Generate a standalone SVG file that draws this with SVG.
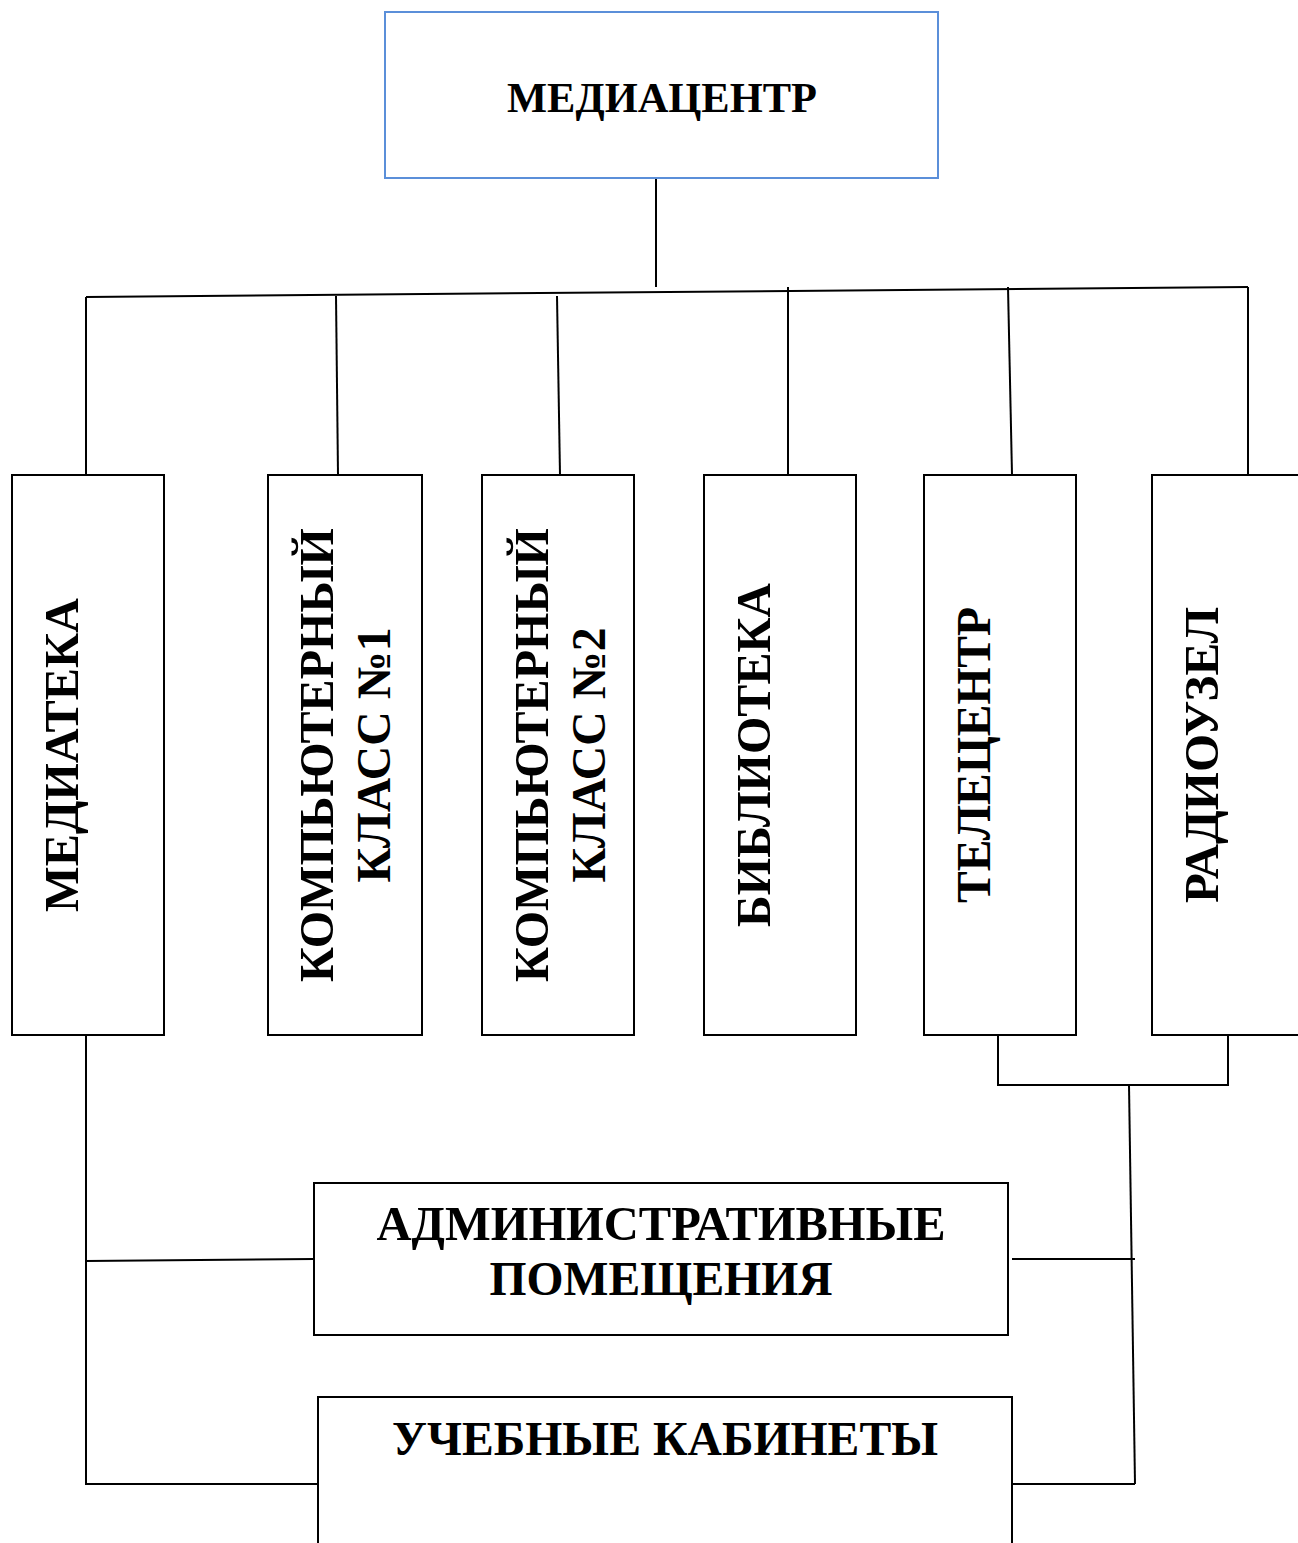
<svg xmlns="http://www.w3.org/2000/svg" width="1298" height="1543" viewBox="0 0 1298 1543">
<style>
.box{fill:#fff;stroke:#000;stroke-width:2}
.top{fill:#fff;stroke:#5b8fd9;stroke-width:2}
.ln{fill:none;stroke:#000;stroke-width:2}
text{font-family:"Liberation Serif","Times New Roman",serif;font-weight:bold;fill:#000;text-anchor:middle}
.v{font-size:48px}
.h{font-size:48px}
</style>
<rect width="1298" height="1543" fill="#fff"/>
<g id="connectors">
<line class="ln" x1="656" y1="178" x2="656" y2="287"/>
<line class="ln" x1="86" y1="297" x2="1248" y2="287"/>
<polyline class="ln" points="86,297 86,475"/>
<line class="ln" x1="336" y1="296" x2="338" y2="475"/>
<line class="ln" x1="557" y1="296" x2="560" y2="475"/>
<line class="ln" x1="788" y1="287" x2="788" y2="475"/>
<line class="ln" x1="1008" y1="287" x2="1012" y2="475"/>
<polyline class="ln" points="1248,287 1248,475"/>
<polyline class="ln" points="998,1035 998,1085 1228,1085 1228,1035"/>
<line class="ln" x1="1129" y1="1085" x2="1135" y2="1484"/>
<line class="ln" x1="1012" y1="1259" x2="1135" y2="1259"/>
<line class="ln" x1="1013" y1="1484" x2="1135" y2="1484"/>
<polyline class="ln" points="86,1035 86,1484 318,1484"/>
<line class="ln" x1="86" y1="1261" x2="314" y2="1259"/>
</g>
<g id="mediacenter">
<rect class="top" x="385" y="12" width="553" height="166"/>
<text class="h" x="662" y="112" style="font-size:42px" textLength="310" lengthAdjust="spacingAndGlyphs">МЕДИАЦЕНТР</text>
</g>
<g id="mediateka">
<rect class="box" x="12" y="475" width="152" height="560"/>
<text class="v" transform="translate(78,755) rotate(-90)" textLength="314" lengthAdjust="spacingAndGlyphs">МЕДИАТЕКА</text>
</g>
<g id="comp1">
<rect class="box" x="268" y="475" width="154" height="560"/>
<text class="v" transform="translate(333,755) rotate(-90)" textLength="454" lengthAdjust="spacingAndGlyphs">КОМПЬЮТЕРНЫЙ</text>
<text class="v" transform="translate(390,755) rotate(-90)" textLength="255" lengthAdjust="spacingAndGlyphs">КЛАСС №1</text>
</g>
<g id="comp2">
<rect class="box" x="482" y="475" width="152" height="560"/>
<text class="v" transform="translate(548,755) rotate(-90)" textLength="454" lengthAdjust="spacingAndGlyphs">КОМПЬЮТЕРНЫЙ</text>
<text class="v" transform="translate(605,755) rotate(-90)" textLength="255" lengthAdjust="spacingAndGlyphs">КЛАСС №2</text>
</g>
<g id="biblioteka">
<rect class="box" x="704" y="475" width="152" height="560"/>
<text class="v" transform="translate(770,755) rotate(-90)" textLength="344" lengthAdjust="spacingAndGlyphs">БИБЛИОТЕКА</text>
</g>
<g id="telecentr">
<rect class="box" x="924" y="475" width="152" height="560"/>
<text class="v" transform="translate(990,755) rotate(-90)" textLength="296" lengthAdjust="spacingAndGlyphs">ТЕЛЕЦЕНТР</text>
</g>
<g id="radiouzel">
<rect class="box" x="1152" y="475" width="170" height="560"/>
<text class="v" transform="translate(1218,755) rotate(-90)" textLength="296" lengthAdjust="spacingAndGlyphs">РАДИОУЗЕЛ</text>
</g>
<g id="admin">
<rect class="box" x="314" y="1183" width="694" height="152"/>
<text class="h" x="661" y="1240" textLength="569" lengthAdjust="spacingAndGlyphs">АДМИНИСТРАТИВНЫЕ</text>
<text class="h" x="661" y="1295" textLength="343" lengthAdjust="spacingAndGlyphs">ПОМЕЩЕНИЯ</text>
</g>
<g id="kabinety">
<rect class="box" x="318" y="1397" width="694" height="170"/>
<text class="h" x="665" y="1455" textLength="546" lengthAdjust="spacingAndGlyphs">УЧЕБНЫЕ КАБИНЕТЫ</text>
</g>
</svg>
